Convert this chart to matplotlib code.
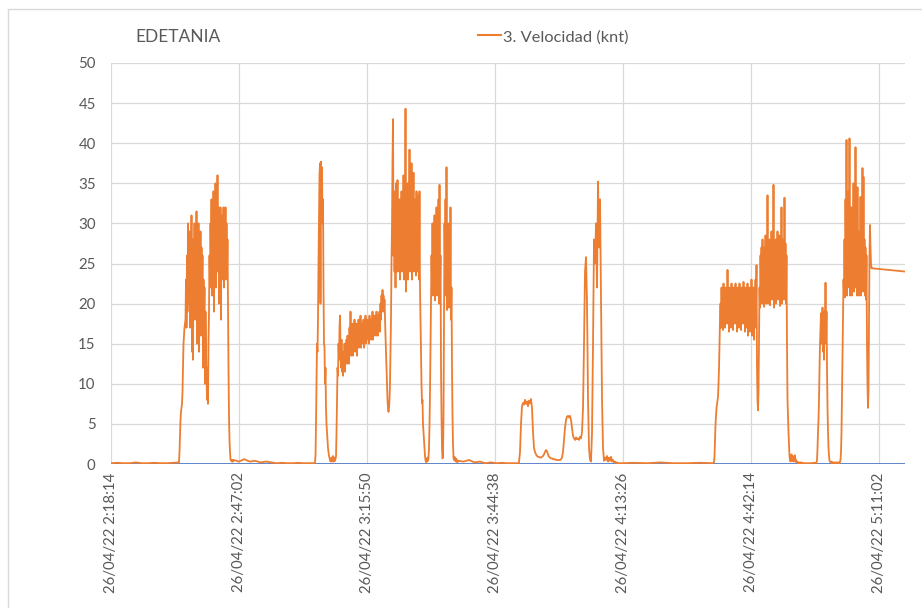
import numpy as np
import matplotlib
matplotlib.use("Agg")
import matplotlib.pyplot as plt
from matplotlib.patches import Rectangle
from matplotlib.lines import Line2D

plt.rcParams['font.family'] = ['Lato', 'DejaVu Sans']

# eje x en minutos desde 26/04/22 2:18:14
etiquetas_x = ['26/04/22 2:18:14', '26/04/22 2:47:02', '26/04/22 3:15:50',
               '26/04/22 3:44:38', '26/04/22 4:13:26', '26/04/22 4:42:14',
               '26/04/22 5:11:02']
ticks_x = [0, 28.8, 57.6, 86.4, 115.2, 144.0, 172.8]
fin_x = 178.65

# tramos de la serie "3. Velocidad (knt)": (inicio_min, fin_min, valores)
reposo_1 = [0.1, 0.15, 0.1, 0.1, 0.2, 0.1, 0.1, 0.15, 0.1, 0.1, 0.15, 0.2]
salida_1 = [0.3, 1.5, 3.5, 5.5, 6.5, 7.0, 7.5, 9, 12, 15, 16, 17, 17.5, 18,
            23, 17, 26, 19, 30, 20, 24, 29, 17, 27, 22, 31, 14, 28, 13, 26,
            21, 30, 18, 27, 22, 31.5, 15, 26, 20, 30, 14, 28, 19, 29, 16, 27,
            21, 26, 12, 23, 18, 22, 10, 19, 14, 11, 8, 12, 7.5, 15, 19, 26,
            22, 30, 25, 33, 21, 30, 24, 34, 19, 31, 25, 35, 22, 30, 26, 36,
            24, 32, 20, 31, 25, 32, 18, 30, 23, 31, 26, 32, 22, 29, 25, 32,
            23, 30, 24, 28, 20, 12, 6, 3, 1.5, 0.6, 0.4, 0.5, 0.3, 0.5, 0.3]
reposo_2 = [0.5, 0.3, 0.6, 0.3, 0.4, 0.2, 0.3, 0.2, 0.1, 0.15, 0.1, 0.1,
            0.15, 0.1, 0.1, 0.1]
pico_2 = [0.2, 1, 5, 10, 15, 14, 18, 25, 30, 36, 37.5, 20, 37.7, 35, 37, 30,
          33, 22, 15, 14.6, 10, 12, 7, 5, 4, 3, 2, 1.5, 1, 0.8, 0.5, 0.3,
          0.4, 0.8, 0.3, 0.5, 1.0, 0.3, 0.5, 0.8, 0.4, 0.6]
tramo_2a = [1, 4, 8, 12, 11, 15, 13, 17, 18.5, 14, 12, 15.5, 11.5, 14, 11,
            13.5, 12, 15, 11.5, 14.5, 13, 15.5, 12.5, 16, 13, 15, 12.5, 17,
            14, 19, 13.5, 16, 14, 17.5, 13.5, 16.5, 14.5, 18, 14, 16, 14.5,
            17.5, 13.5, 16.5, 15, 18, 14.5, 17, 15, 18.5, 14.5, 17, 15, 17.5,
            15.5, 18, 14.5, 17, 15.5, 18.5, 15, 17.5, 15.5, 18, 16, 17.5, 15,
            18.5, 16, 17.5, 15.5, 18, 16, 19, 15.5, 17.5, 16, 18.5, 16.5, 18,
            16, 19, 16.5, 18, 16, 18.5, 17, 19, 16.5, 20, 18, 21, 19, 21.7,
            20, 21, 19, 20.5, 18, 16, 14, 12, 10, 8, 7, 6.5, 7, 8, 10, 14,
            18, 25]
tramo_2b = [30, 38, 43, 26, 34, 24, 30, 22, 35, 24, 28, 35.4, 24, 31, 27, 33,
            23, 30, 28, 34, 24, 31, 26, 36, 23, 32, 27, 44.3, 21.5, 30, 25,
            35, 23, 33, 28, 39.2, 24, 32, 26, 37.5, 23, 31, 27, 36.3, 24, 33,
            25, 32, 23.5, 34, 26, 31, 24, 33.5, 23, 34, 22, 18, 14, 10, 7.6,
            8, 5, 4, 3, 2, 1, 0.5, 0.3, 0.2, 0.4, 0.8]
tramo_2c = [0.4, 0.8, 2, 5, 9, 15, 20, 26, 22, 30, 21, 28, 24, 31, 20.4, 29,
            23, 32, 21, 30, 22, 33, 20, 34.8, 22, 26, 12, 6, 2, 0.7, 0.9, 6,
            18, 30, 24, 33, 21, 37, 19.2, 28, 21, 30, 19.5, 26, 20, 32, 18,
            22, 12, 6, 2.5, 0.8, 0.5, 0.9, 0.4, 0.7, 0.3, 0.6, 0.3, 0.2]
reposo_3 = [0.4, 0.3, 0.5, 0.2, 0.3, 0.1, 0.2, 0.1, 0.15, 0.1, 0.1, 0.1]
maniobra_3 = [0.2, 1.5, 5, 7.2, 7.6, 7.4, 8.0, 7.5, 7.8, 7.2, 7.9, 7.6, 8.1,
              7.0, 4, 2, 1.5, 1.2, 1.0, 0.9, 0.9, 0.8, 0.8, 0.9, 1.0, 1.2,
              1.5, 1.75, 1.6, 1.2, 0.9, 0.8, 0.7, 0.7, 0.6, 0.6, 0.6, 0.5,
              0.5, 0.5, 0.5, 0.5, 0.6, 0.8, 1.5, 3, 4.5, 5.5, 5.9, 6.0, 5.8,
              6.0, 5.5, 4.5, 3.5, 3.2, 3.0, 3.3, 3.1, 3.2, 3.0, 3.4, 3.2, 4,
              7, 15, 24, 25.8, 20, 8, 2, 0.5, 0.3, 4, 15, 28, 25, 30, 22,
              35.2, 27, 33, 20, 8, 2, 0.4, 0.8, 0.5, 1.0, 0.3, 0.8, 0.4, 0.9,
              0.3, 0.5, 0.2, 0.3, 0.1, 0.2, 0.1, 0.1, 0.1]
reposo_4 = [0.1, 0.15, 0.1, 0.2, 0.1, 0.1, 0.15, 0.1]
salida_4 = [0.2, 1, 3, 5, 6, 7, 7.5, 8, 8.4, 10, 12, 15, 18, 20, 17, 22, 18,
            21, 16.7, 22.5, 18, 21, 17, 22, 19, 21.5, 17.5, 24.2, 18, 21,
            16.5, 22, 18.5, 21.5, 17, 22.5, 18, 20.5, 16.7, 22, 19, 21, 17.5,
            22.5, 18, 21.5, 16.5, 22, 18, 20.5, 17, 22.5, 19, 21.5, 16.7, 22,
            18, 21, 17.5, 22.7, 18, 21.5, 16.5, 22, 18.5, 21, 17, 22.5, 16,
            21, 17.5, 22, 16.5, 21.5, 18, 23, 16, 21, 17, 22, 15.5, 22, 17,
            23, 19, 24.8, 12, 8, 6.7, 9, 15, 22, 19.5, 26, 21, 27, 20, 28,
            22, 26.5, 19.6, 27, 21, 28.5, 20, 26, 22, 33.5, 20, 27, 21.5, 28,
            19.8, 26.5, 22, 29, 20.5, 27, 21, 34.8, 19.5, 27.5, 21, 28, 20,
            26, 22, 29, 20.5, 27, 21, 28.5, 19.7, 26.5, 22, 32, 20, 28, 21,
            27, 20.5, 33.2, 21, 27.5, 20, 26, 15, 8, 5.9, 4, 2.5, 1, 0.5,
            0.3, 0.6, 1.2, 0.4, 0.8, 1.0, 0.3, 0.8, 0.4, 1.1, 0.3, 0.5, 0.2,
            0.3, 0.2, 0.2, 0.1, 0.2, 0.1, 0.1, 0.2, 0.1, 0.1, 0.2, 0.1, 0.1,
            0.1, 0.1, 0.1, 0.1, 0.1]
reposo_5 = [0.1, 0.1, 0.15]
llegada_5 = [0.1, 0.2, 0.5, 2, 4, 5.5, 8, 12, 15, 17, 18.8, 15, 17, 19.5, 14,
             18, 13, 19, 16, 22.6, 15, 19, 12, 7, 4, 2, 1, 0.4, 0.3, 0.2, 0.2,
             0.3, 0.1, 0.2, 0.2, 0.1, 0.1, 0.2, 0.2, 0.1, 0.1, 0.2, 0.2, 0.1,
             0.1, 0.2, 0.2, 0.1, 0.3, 0.5, 1.5, 4, 9, 15, 20, 23, 21, 28,
             20.8, 33, 23, 40.4, 21, 30, 22, 34, 24, 40.6, 21, 29, 22.5, 32,
             21, 28, 23, 35, 21.5, 30, 22, 39.5, 24, 28, 21, 34.5, 22.5, 29,
             21, 28, 23, 33.3, 21, 27, 22, 36.9, 21.5, 35.8, 23, 28, 21, 27,
             20.5, 26, 15, 10, 7, 9, 18, 26, 29.8, 27, 25, 24.4]
final_5 = [24.4, 24.0]

tramos = [
    (0.0, 15.3, reposo_1),
    (15.3, 27.45, salida_1),
    (27.56, 45.79, reposo_2),
    (45.9, 50.51, pico_2),
    (50.63, 63.11, tramo_2a),
    (63.23, 71.21, tramo_2b),
    (71.33, 77.96, tramo_2c),
    (78.08, 91.58, reposo_3),
    (91.8, 114.53, maniobra_3),
    (114.75, 135.45, reposo_4),
    (135.68, 156.26, salida_4),
    (156.38, 158.4, reposo_5),
    (158.63, 171.11, llegada_5),
    (171.23, fin_x, final_5),
]

t = np.concatenate([np.linspace(a, b, len(v)) for a, b, v in tramos])
vel = np.concatenate([np.array(v, dtype=float) for a, b, v in tramos])

gris = '#595959'
naranja = '#ED7D31'
azul = '#4472C4'

fig = plt.figure(figsize=(9.22, 6.08), dpi=100)
ax = fig.add_axes([111/922, 1-464/608, (905-111)/922, (464-63)/608])

ax.plot([0, fin_x], [0, 0], color=azul, lw=1.2)
ax.plot(t, vel, color=naranja, lw=1.3)

ax.set_xlim(0, fin_x)
ax.set_ylim(0, 50)
ax.set_yticks(range(0, 51, 5))
ax.set_xticks(ticks_x)
ax.set_xticklabels(etiquetas_x, rotation=90)
ax.tick_params(axis='both', length=0, colors=gris, labelsize=10.8)
ax.tick_params(axis='y', pad=11)
ax.tick_params(axis='x', pad=6)
ax.grid(True, color='#d9d9d9', lw=0.9)
ax.set_axisbelow(True)
for s in ax.spines.values():
    s.set_visible(False)

fig.text(135/922, 1-37/608, 'EDETANIA', color=gris, fontsize=12.5, va='center', ha='left')

h = Line2D([], [], color=naranja, lw=1.5)
fig.legend([h], ['3. Velocidad (knt)'], loc='center left',
           bbox_to_anchor=(478/922, 1-37/608), frameon=False, fontsize=11.8,
           labelcolor=gris, handlelength=1.4, handletextpad=0.15,
           borderpad=0, borderaxespad=0)

fig.add_artist(Rectangle((8/922, -0.1), 2, 1.1 - 9/608, transform=fig.transFigure,
                         fill=False, edgecolor='#d9d9d9', lw=1))

fig.savefig('out.png', dpi=100)
